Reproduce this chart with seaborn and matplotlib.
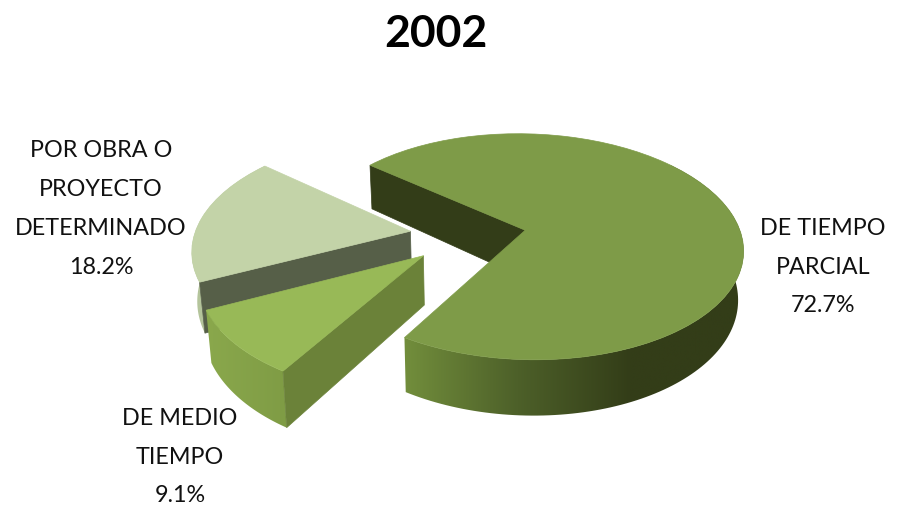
import numpy as np
import matplotlib
matplotlib.use("Agg")
import matplotlib.pyplot as plt
import seaborn as sns
from matplotlib.patches import Polygon
from matplotlib.transforms import Transform

title = "2002"
slices = ["DE TIEMPO\nPARCIAL", "DE MEDIO\nTIEMPO", "POR OBRA O\nPROYECTO\nDETERMINADO"]
values = [72.7, 9.1, 18.2]
top_colors = ["#7e9b48", "#98b957", "#c3d3a8"]
face_colors = ["#333d18", "#6b8239", "#565f48"]
side_colors = [["#728e3c", "#4d6029", "#333d18", "#333d18"], ["#8aa84c", "#7f9c45"], ["#b5c59c", "#b0c096"]]
label_pos = [(823, 267), (180, 457), (101, 209)]

sns.set_theme(style="white")
plt.rcParams["font.family"] = ["Lato", "DejaVu Sans"]

# look of the tilted disc, in pixels of the figure
CX, CY, RX, RY, K, DEPTH = 468, 235, 216, 112, 0.147, 48


def project(x, y, z=0.0):
    f = 1 / (1 + K * np.asarray(y))
    return CX + RX * np.asarray(x) * f * (1 - 0.02 * z), CY - RY * np.asarray(y) * f + DEPTH * z * f


class Tilt(Transform):
    input_dims = output_dims = 2

    def transform_non_affine(self, values):
        sx, sy = project(values[:, 0], values[:, 1])
        return np.column_stack([sx, sy])


def rim(w, a, b, z):
    t = np.radians(np.linspace(a, b, 120))
    sx, sy = project(w.center[0] + w.r * np.cos(t), w.center[1] + w.r * np.sin(t), z)
    return np.column_stack([sx, sy])


def draw_side(ax, w, a, b, colors):
    pts = np.vstack([rim(w, a, b, 0), rim(w, a, b, 1)[::-1]])
    cmap = sns.blend_palette(colors, as_cmap=True)
    x0, x1 = pts[:, 0].min(), pts[:, 0].max()
    y0, y1 = pts[:, 1].min(), pts[:, 1].max()
    im = ax.imshow(np.linspace(0, 1, 256)[None, :], cmap=cmap, aspect="auto",
                   extent=(x0, x1, y1, y0), zorder=w.get_zorder() - 1)
    im.set_clip_path(Polygon(pts, transform=ax.transData))


def draw_face(ax, w, color):
    edge = np.radians(w.theta2)
    ex, ey = w.center[0] + w.r * np.cos(edge), w.center[1] + w.r * np.sin(edge)
    pts = [project(w.center[0], w.center[1], 0), project(ex, ey, 0),
           project(ex, ey, 1), project(w.center[0], w.center[1], 1)]
    ax.add_patch(Polygon(pts, closed=True, fc=color, ec=color, lw=0.5, zorder=w.get_zorder() - 1))


fig = plt.figure(figsize=(9.05, 5.07), dpi=100)
ax = fig.add_axes([0, 0, 1, 1])
wedges, _ = ax.pie(values, explode=[0.27] * 3, startangle=140, counterclock=False,
                   colors=top_colors, radius=1)

# back to front: light slice, small slice, big slice
order = [2, 1, 0]
for n, i in enumerate(order):
    w = wedges[i]
    w.set_transform(Tilt() + ax.transData)
    w.set_zorder(3 * n + 3)
    w.set_edgecolor(top_colors[i])
    w.set_linewidth(0.5)
    a, b = w.theta1, w.theta2
    if i == 0:
        b = 40
    draw_side(ax, w, a, b, side_colors[i])
    draw_face(ax, w, face_colors[i])

ax.set_aspect("auto")
ax.set_xlim(0, 905)
ax.set_ylim(507, 0)
ax.axis("off")

ax.text(436, 34, title, ha="center", va="center", fontsize=32, fontweight="bold", color="black")
for name, v, (lx, ly) in zip(slices, values, label_pos):
    ax.text(lx, ly, f"{name}\n{v:.1f}%", ha="center", va="center", fontsize=16.8,
            linespacing=2.05, color="#111111", zorder=20)

fig.savefig("out.png", dpi=100)
